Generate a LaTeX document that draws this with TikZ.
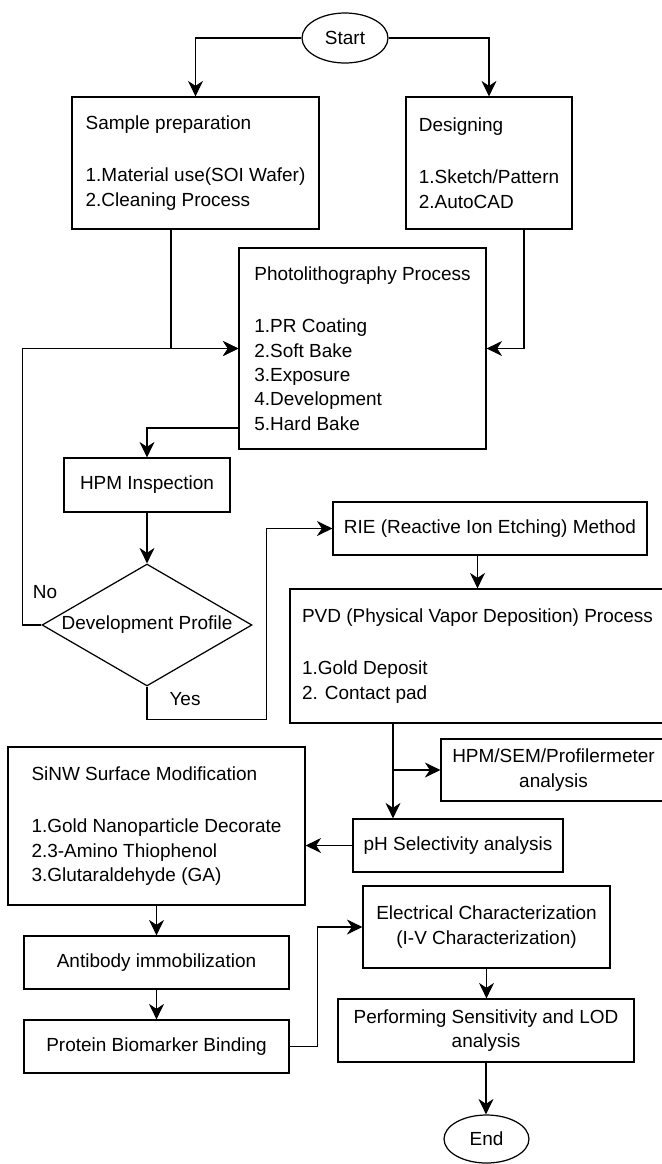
\documentclass[tikz,border=0pt]{standalone}
\usepackage{fontspec}
\setmainfont{Liberation Sans}
\usepackage{tikz}
\usetikzlibrary{arrows.meta,calc,shapes.geometric}

\begin{document}
\begin{tikzpicture}[x=0.02cm,y=-0.02cm,line width=0.7pt,
    >={Stealth[length=3.1mm,width=3mm,inset=1mm]},
    every node/.style={font=\fontsize{10.8}{13.9}\selectfont},
    procbox/.style={draw=black,align=left,inner sep=0pt},
    plainbox/.style={draw=black,align=center,inner sep=0pt},
    terminal/.style={draw=black,ellipse,inner sep=0pt},
    decision/.style={draw=black,diamond,aspect=1.72,inner sep=0pt}]

    \useasboundingbox (0,0) rectangle (662,1164);

    \node (start)    [terminal,minimum width=1.72cm,minimum height=1cm] at (345,38) {Start};
    \node (sample)   [procbox,minimum width=4.94cm,minimum height=2.64cm] at (195.5,163)
      {Sample preparation\\[0.56cm]1.Material use(SOI Wafer)\\2.Cleaning Process};
    \node (design)   [procbox,minimum width=3.32cm,minimum height=2.64cm] at (489,163)
      {Designing\\[0.56cm]1.Sketch/Pattern\\2.AutoCAD};
    \node (photo)    [procbox,minimum width=4.94cm,minimum height=4.02cm] at (362.5,348.5)
      {Photolithography Process\\[0.56cm]1.PR Coating\\2.Soft Bake\\3.Exposure\\4.Development\\5.Hard Bake};
    \node (hpm)      [plainbox,minimum width=3.32cm,minimum height=1.08cm] at (147,485) {HPM Inspection};
    \node (devprof)  [decision,minimum width=4.2cm,minimum height=2.44cm] at (147,625) {Development Profile};
    \node (rie)      [plainbox,minimum width=6.28cm,minimum height=1.06cm] at (490,528.5) {RIE (Reactive Ion Etching) Method};
    \node (pvd)      [procbox,minimum width=7.5cm,minimum height=2.68cm] at (477.5,656)
      {PVD (Physical Vapor Deposition) Process\\[0.56cm]1.Gold Deposit\\2. Contact pad};
    \node (sem)      [plainbox,minimum width=4.5cm,minimum height=1.24cm] at (553.5,770) {HPM/SEM/Profilermeter\\analysis};
    \node (ph)       [plainbox,minimum width=4.2cm,minimum height=1.06cm] at (458,845.5) {pH Selectivity analysis};
    \node (sinw)     [procbox,minimum width=5.94cm,minimum height=3.16cm] at (156.5,826)
      {SiNW Surface Modification\\[0.56cm]1.Gold Nanoparticle Decorate\\2.3-Amino Thiophenol\\3.Glutaraldehyde (GA)};
    \node (antibody) [plainbox,minimum width=5.3cm,minimum height=1.06cm] at (156.5,962.5) {Antibody immobilization};
    \node (protein)  [plainbox,minimum width=5.3cm,minimum height=1.06cm] at (156.5,1046.5) {Protein Biomarker Binding};
    \node (elec)     [plainbox,minimum width=4.94cm,minimum height=1.64cm] at (486.5,927)
      {Electrical Characterization\\(I-V Characterization)};
    \node (perf)     [plainbox,minimum width=5.92cm,minimum height=1.26cm] at (486,1030.5)
      {Performing Sensitivity and LOD\\analysis};
    \node (finish)   [terminal,minimum width=1.7cm,minimum height=0.96cm] at (486.5,1139) {End};

    \node (no)  at (45,592) {No};
    \node (yes) at (185,699) {Yes};

    \draw [->] (start.west) -| (sample.north);
    \draw [->] (start.east) -| (design.north);
    \draw [->] ($(sample.south)+(-24.5,0)$) |- (photo.west);
    \draw [->] ($(design.south)+(35,0)$) |- (photo.east);
    \draw [->] ($(photo.west)+(0,79.5)$) -| (hpm.north);
    \draw [->] (hpm.south) -- (devprof.north);
    \draw [->] (devprof.west) -- ++(-19,0) |- (photo.west);
    \draw [->] (devprof.south) -- ++(0,33) -| ($(rie.west)+(-66,0)$) -- (rie.west);
    \draw [->] (rie.south -| pvd.north) -- (pvd.north);

    \draw [->] ($(pvd.south)+(-84.5,0)$) coordinate (split) -- (split |- ph.north);
    \draw [->] (split |- sem.west) -- (sem.west);
    \draw [->] (ph.west) -- (sinw.east |- ph.west);

    \draw [->] (sinw.south) -- (antibody.north);
    \draw [->] (antibody.south) -- (protein.north);
    \draw [->] (protein.east) -- ++(28,0) |- (elec.west);
    \draw [->] (elec.south) -- (elec.south |- perf.north);
    \draw [->] (perf.south) -- (perf.south |- finish.north);

  \end{tikzpicture}
\end{document}
